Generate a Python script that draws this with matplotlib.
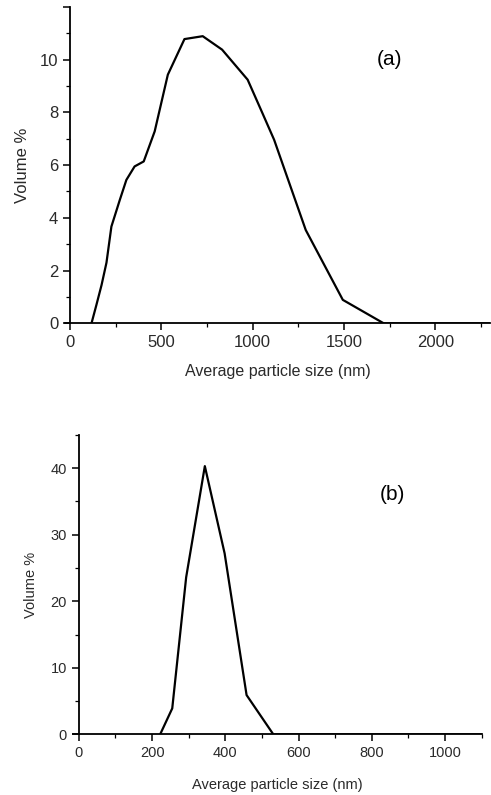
import matplotlib.pyplot as plt
from matplotlib.ticker import MultipleLocator

plt.rcParams['font.family'] = ['Liberation Sans', 'DejaVu Sans']

# (a) particle size distribution
size_a = [118, 145, 173, 200, 227, 273, 309, 354, 404, 464, 536, 627, 727,
          833, 973, 1054, 1118, 1291, 1494, 1718, 2300]
vol_a = [0, 0.7, 1.45, 2.3, 3.67, 4.68, 5.44, 5.95, 6.14, 7.28, 9.43, 10.78,
         10.89, 10.38, 9.24, 7.97, 6.96, 3.54, 0.89, 0, 0]

# (b) particle size distribution
size_b = [222, 255, 293, 344, 398, 458, 531, 1100]
vol_b = [0, 3.9, 23.6, 40.3, 27.2, 5.9, 0, 0]

text_col = '#2a2a2a'

fig = plt.figure(figsize=(4.91, 7.95), dpi=100)

# x axis line sticks out a little to the left of the y axis
ax1 = fig.add_axes([0.1324, 0.5933, 0.8656, 0.398])
ax2 = fig.add_axes([0.1487, 0.0763, 0.8323, 0.3767])

for ax in (ax1, ax2):
    for s in ['top', 'right']:
        ax.spines[s].set_visible(False)
    ax.spines['left'].set_position(('data', 0))
    ax.spines['left'].set_linewidth(1.3)
    ax.spines['bottom'].set_linewidth(1.3)
    ax.tick_params(which='major', direction='out', length=5, width=1.1,
                   colors='black', labelcolor=text_col)
    ax.tick_params(which='minor', direction='out', length=3, width=0.9)

# top panel
ax1.plot(size_a, vol_a, color='black', lw=1.6)
ax1.set_xlim(-27, 2300)
ax1.set_ylim(0, 12)
ax1.set_xticks([0, 500, 1000, 1500, 2000])
ax1.set_yticks([0, 2, 4, 6, 8, 10, 12])
ax1.set_yticklabels(['0', '2', '4', '6', '8', '10', ''])
ax1.xaxis.set_minor_locator(MultipleLocator(250))
ax1.yaxis.set_minor_locator(MultipleLocator(1))
ax1.tick_params(labelsize=12)
ax1.set_xlabel('Average particle size (nm)', fontsize=11.5, color=text_col, labelpad=10)
ax1.set_ylabel('Volume %', fontsize=12, color=text_col)
ax1.yaxis.set_label_coords(-0.082, 0.5)
ax1.text(1750, 10, '(a)', fontsize=15, ha='center', va='center', color='black')

# bottom panel
ax2.plot(size_b, vol_b, color='black', lw=1.6)
ax2.set_xlim(-16, 1100)
ax2.set_ylim(0, 45)
ax2.set_xticks([0, 200, 400, 600, 800, 1000])
ax2.set_yticks([0, 10, 20, 30, 40])
ax2.xaxis.set_minor_locator(MultipleLocator(100))
ax2.yaxis.set_minor_locator(MultipleLocator(5))
ax2.tick_params(labelsize=10.5)
ax2.set_xlabel('Average particle size (nm)', fontsize=10.5, color=text_col, labelpad=13)
ax2.set_ylabel('Volume %', fontsize=10.5, color=text_col)
ax2.yaxis.set_label_coords(-0.086, 0.5)
ax2.text(855, 36, '(b)', fontsize=15, ha='center', va='center', color='black')

fig.savefig('out.png', dpi=100)
